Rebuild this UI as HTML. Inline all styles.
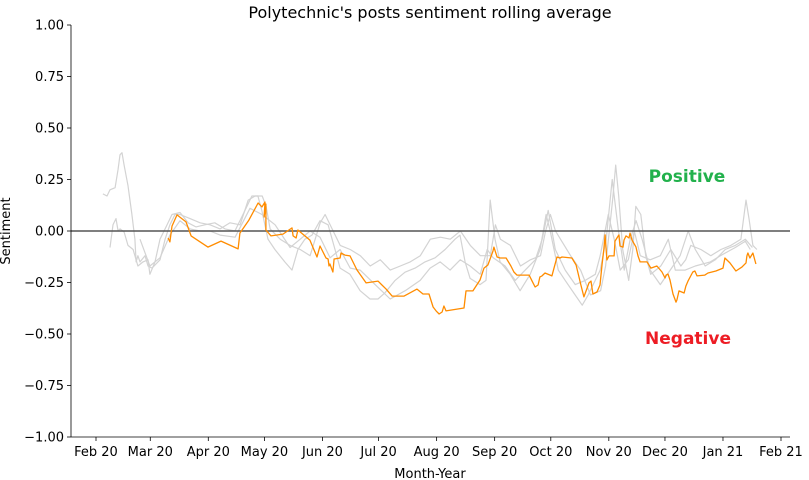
<!DOCTYPE html>
<html><head><meta charset="utf-8"><style>
body{margin:0;background:#fff;}
svg{display:block;font-family:"DejaVu Sans","Liberation Sans",sans-serif;}
</style></head><body>
<svg id="chart" width="809" height="480">
<text x="430" y="18" text-anchor="middle" font-size="16" fill="#000">Polytechnic's posts sentiment rolling average</text>
<g id="grid"></g>
<g id="series"></g>
<g id="axes"></g>
<text x="687" y="182" text-anchor="middle" font-size="17" font-weight="bold" fill="#22b14c">Positive</text>
<text x="688" y="344" text-anchor="middle" font-size="17" font-weight="bold" fill="#ed1c24">Negative</text>
<text x="430" y="478" text-anchor="middle" font-size="13">Month-Year</text>
<text transform="translate(10,231) rotate(-90)" text-anchor="middle" font-size="13">Sentiment</text>
</svg>
<script>
const xTickDays=[0,29,60,90,121,151,182,213,243,274,304,335,366];
const xTickLabels=["Feb 20","Mar 20","Apr 20","May 20","Jun 20","Jul 20","Aug 20","Sep 20","Oct 20","Nov 20","Dec 20","Jan 21","Feb 21"];
const yTicks=[1,0.75,0.5,0.25,0,-0.25,-0.5,-0.75,-1];
const yTickLabels=["1.00","0.75","0.50","0.25","0.00","\u22120.25","\u22120.50","\u22120.75","\u22121.00"];
const orangeDays=[38.5,39.5,40.6,43.3,48.1,50.8,59.8,66.8,75.9,76.9,81.7,86.6,88.7,90.3,89.8,90.8,90.8,93.5,99.9,104.7,105.3,106.9,107.9,114.3,118.1,119.7,122.9,124,124.5,125,126.6,127.2,130.4,130.9,133,135.7,139.4,144.3,150.7,155,158.2,164.6,171.5,174.7,177.9,180.1,181.7,183.3,184.9,185.9,187,196.6,197.7,201.4,205.2,207.3,209.4,212.1,212.6,214.3,215.9,219.1,221.7,223.3,224.9,231.4,233,234.6,236.2,237.2,238.3,239.9,243.6,246.3,247.9,249,254.3,256.5,259.1,260.7,263.4,264.5,265.5,267.7,269.3,270.4,271.4,272,273,274.1,276.8,277.3,279.4,280,281.6,282.1,283.2,284.8,285.3,286.4,288.5,289.6,290.7,294.4,296.5,299.7,302.4,304,304.6,305.6,306.7,308.3,309.9,310.4,311.5,314.2,315.2,316.3,318.9,320,321.1,325.3,327,331.2,335,336,338.7,341.9,345.1,347.3,347.8,348.3,349.4,351,352.6];
const orangeValues=[-0.034,-0.053,0.024,0.078,0.044,-0.024,-0.078,-0.049,-0.087,-0.01,0.053,0.136,0.117,0.141,0.068,0.131,0.005,-0.024,-0.015,0.015,-0.024,-0.034,0.005,-0.044,-0.126,-0.073,-0.131,-0.136,-0.17,-0.16,-0.199,-0.136,-0.131,-0.107,-0.117,-0.121,-0.189,-0.252,-0.243,-0.282,-0.316,-0.316,-0.282,-0.306,-0.306,-0.369,-0.388,-0.403,-0.393,-0.364,-0.388,-0.374,-0.291,-0.291,-0.238,-0.18,-0.165,-0.097,-0.078,-0.126,-0.131,-0.131,-0.17,-0.199,-0.214,-0.214,-0.243,-0.272,-0.262,-0.223,-0.218,-0.204,-0.218,-0.126,-0.131,-0.126,-0.131,-0.165,-0.262,-0.32,-0.252,-0.243,-0.306,-0.296,-0.262,-0.16,-0.087,-0.019,-0.141,-0.121,-0.121,-0.049,-0.019,-0.073,-0.078,-0.044,-0.024,-0.034,-0.01,-0.044,-0.078,-0.121,-0.15,-0.15,-0.18,-0.17,-0.199,-0.228,-0.214,-0.209,-0.238,-0.306,-0.345,-0.335,-0.291,-0.301,-0.267,-0.243,-0.199,-0.194,-0.218,-0.214,-0.204,-0.194,-0.18,-0.131,-0.155,-0.194,-0.175,-0.155,-0.121,-0.107,-0.131,-0.107,-0.16];
const greyADays=[3.7,5.9,7.5,10.2,11.8,12.8,13.9,15,17.1,19.2,20.8,21.4,22.4,23.5,26.2,27.8,29.9,34.2,36.9,39.5,42.2,44.9,50.2,55.6,60.9,66.3,71.6,77,81.3,85,88.8,90.9,93,98.4,103.7,109.1,114.4,119.8,122.4,125.1,130.5,135.8,141.2,146.5,151.9,157.2,162.6,167.9,173.3,178.6,184,189.3,194.7,200,205.4,210.7,213.4,216.1,221.4,226.8,232.1,237.5,240.2,242.8,245.5,248.2,253.6,258.9,264.2,269.6,272.3,276,277.7,279.3,281.4,284.6,286.8,288.4,291.1,293.7,296.4,301.8,307.1,312.5,315.1,317.8,323.2,328.5,333.9,339.2,344.6,347.3,348.9,351,353.1];
const greyAValues=[0.18,0.17,0.2,0.21,0.3,0.37,0.38,0.32,0.22,0.08,-0.04,-0.15,-0.12,-0.15,-0.12,-0.17,-0.18,-0.14,-0.04,0.03,0.08,0.08,0.06,0.04,0.03,0.01,0.04,0.03,0.15,0.17,0.17,0.12,0.01,-0.04,-0.07,-0.09,-0.12,0.04,0.08,0.03,-0.07,-0.09,-0.12,-0.17,-0.14,-0.19,-0.17,-0.15,-0.12,-0.04,-0.03,-0.04,0,-0.07,-0.12,-0.12,0.03,-0.04,-0.07,-0.17,-0.14,-0.12,0,0.08,0,-0.04,-0.12,-0.19,-0.31,-0.29,-0.17,0.15,0.32,0.17,-0.09,-0.24,-0.09,0.12,0.08,-0.12,-0.21,-0.17,-0.09,-0.17,-0.14,-0.07,-0.09,-0.12,-0.09,-0.07,-0.04,0.15,0.06,-0.07,-0.09];
const greyBDays=[7.5,9.1,10.7,11.8,12.8,15,17.1,19.8,22.4,25.1,27.8,28.8,31.5,34.2,36.9,40.6,44.9,49.2,53.4,58.2,63.5,68.9,74.2,79.6,83.3,86.5,88.6,91.9,95.6,100.9,104.7,107.9,111.6,115.4,119.7,124,127.7,130.4,135.7,141.1,146.4,150.7,154.4,159.8,165.1,170.5,175.8,181.2,186.5,191.8,194.5,197.2,199.9,205.2,208.4,210.6,213.2,215.9,221.3,226.6,232,237.3,240.5,242.7,247,250.7,256,259.8,263,266.7,269.4,272.6,275.8,279,282.2,285.4,288.6,291.8,296.1,301.5,306.8,312.1,316.4,320.2,325.5,330.9,336.2,341.6,346.9,350.7];
const greyBValues=[-0.08,0.03,0.06,0,0.01,-0.005,-0.07,-0.09,-0.17,-0.15,-0.14,-0.21,-0.15,-0.04,0.01,0.08,0.09,0.04,0.02,0.03,0.04,0.01,0,0.1,0.17,0.17,0.1,-0.04,-0.09,-0.15,-0.19,-0.09,-0.04,-0.02,0.05,0.03,-0.09,-0.18,-0.21,-0.29,-0.33,-0.33,-0.3,-0.24,-0.2,-0.18,-0.15,-0.13,-0.09,-0.04,-0.02,-0.15,-0.23,-0.26,-0.24,0.15,-0.04,-0.15,-0.21,-0.29,-0.21,-0.09,0.08,0,-0.19,-0.24,-0.31,-0.36,-0.31,-0.24,-0.19,-0.04,0.25,0.01,-0.19,-0.04,0.05,-0.04,-0.19,-0.26,-0.19,-0.12,0,-0.09,-0.17,-0.14,-0.09,-0.07,-0.04,-0.08];
const greyCDays=[23.5,28.8,34.2,39.5,44.9,50.2,55.6,60.9,66.3,74.3,82.3,88.7,95.7,103.7,109.1,114.4,119.7,125.1,130.4,135.8,141.1,149.1,157.2,165.2,173.2,178.5,183.9,189.2,194.6,199.9,205.3,209,212.2,218.6,224,229.3,234.7,238.4,241.6,245.4,250.7,256.1,261.4,266.8,269.4,273.7,276.9,280.1,284.4,287.6,290.8,296.1,301.5,305.8,309.5,314.8,320.2,328.2,333.6,341.6,346.9,349.6];
const greyCValues=[-0.04,-0.17,-0.13,-0.02,0.05,0.01,0,0,-0.02,-0.03,0.11,0.08,0.03,-0.08,-0.04,0,-0.03,-0.13,-0.09,-0.18,-0.19,-0.26,-0.33,-0.29,-0.24,-0.18,-0.15,-0.19,-0.14,-0.17,-0.21,-0.09,-0.13,-0.17,-0.24,-0.19,-0.14,-0.04,0.1,-0.09,-0.19,-0.26,-0.24,-0.21,-0.12,0.08,-0.04,-0.19,-0.14,0,-0.12,-0.14,-0.12,-0.04,-0.19,-0.19,-0.17,-0.15,-0.12,-0.08,-0.05,-0.09];

const NS="http://www.w3.org/2000/svg";
const X0=71,X1=790,Y0=25,Y1=437;
function xScale(d){return 96+d*(685/366);}
function yScale(v){return 231-v*206;}
function mk(tag,attrs,parent){const e=document.createElementNS(NS,tag);for(const k in attrs)e.setAttribute(k,attrs[k]);parent.appendChild(e);return e;}
const axes=document.getElementById('axes');
const series=document.getElementById('series');
function line(days,vals,color,w,name){
  let d="";
  for(let i=0;i<days.length;i++){d+=(i?"L":"M")+xScale(days[i]).toFixed(1)+","+yScale(vals[i]).toFixed(1);}
  const p=mk('path',{d:d,fill:"none",stroke:color,"stroke-width":w,"stroke-linejoin":"round"},series);
  
  
}
line(greyADays,greyAValues,"#d3d3d3",1.2,"grey-series-a");
line(greyBDays,greyBValues,"#d3d3d3",1.2,"grey-series-b");
line(greyCDays,greyCValues,"#d3d3d3",1.2,"grey-series-c");
const zl=mk('line',{x1:X0,x2:X1,y1:yScale(0),y2:yScale(0),stroke:"#555","stroke-width":1.5},series);


line(orangeDays,orangeValues,"#ff8c00",1.3,"polytechnic-rolling-average");
const ls=mk('line',{x1:X0,x2:X0,y1:Y0,y2:Y1,stroke:"#000","stroke-width":0.8},axes);


const bs=mk('line',{x1:X0,x2:X1,y1:Y1,y2:Y1,stroke:"#000","stroke-width":0.8},axes);


yTicks.forEach((v,i)=>{
  const y=yScale(v);
  mk('line',{x1:X0-4,x2:X0,y1:y,y2:y,stroke:"#000","stroke-width":0.8},axes);
  const t=mk('text',{x:X0-7,y:y+4.5,"text-anchor":"end","font-size":13},axes);
  t.textContent=yTickLabels[i];
  
  
});
xTickDays.forEach((d,i)=>{
  const x=xScale(d);
  mk('line',{x1:x,x2:x,y1:Y1,y2:Y1+4,stroke:"#000","stroke-width":0.8},axes);
  const t=mk('text',{x:x,y:Y1+19,"text-anchor":"middle","font-size":13},axes);
  t.textContent=xTickLabels[i];
  
  
});
</script>
</body></html>
